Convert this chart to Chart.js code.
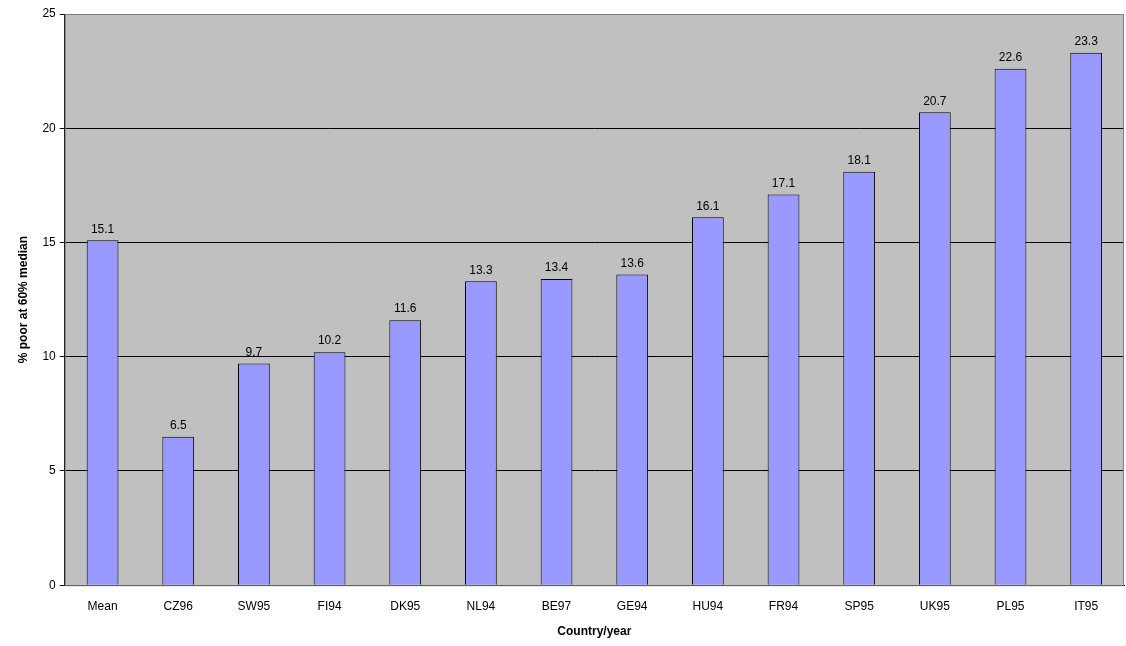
<!DOCTYPE html>
<html><head><meta charset="utf-8">
<script src="https://cdn.jsdelivr.net/npm/chart.js@4/dist/chart.umd.min.js"></script>
<style>html,body{margin:0;padding:0;background:#fff}#w{width:1126px;height:646px}</style>
</head><body><div id="w"><canvas id="c"></canvas></div>
<script>
const categories=["Mean","CZ96","SW95","FI94","DK95","NL94","BE97","GE94","HU94","FR94","SP95","UK95","PL95","IT95"];
const values=[15.1,6.5,9.7,10.2,11.6,13.3,13.4,13.6,16.1,17.1,18.1,20.7,22.6,23.3];
const yTicks=[0,5,10,15,20,25];
const bg={id:'bg',beforeDraw(ch){const a=ch.chartArea,c=ch.ctx;c.save();c.fillStyle='#C0C0C0';c.fillRect(a.left,a.top,a.right-a.left,a.bottom-a.top);c.restore();},
afterDraw(ch){const a=ch.chartArea,c=ch.ctx;c.save();c.strokeStyle='#808080';c.lineWidth=1;c.strokeRect(a.left+0.5,a.top+0.5,a.right-a.left-1,a.bottom-a.top);c.restore();}};
const lbl={id:'lbl',afterDatasetsDraw(ch){const c=ch.ctx;c.save();c.font='12px Arial, "Liberation Sans"';c.fillStyle='#000';c.textAlign='center';c.textBaseline='bottom';
ch.getDatasetMeta(0).data.forEach((b,i)=>{c.fillText(values[i].toFixed(1),b.x,b.y-5);});c.restore();}};
new Chart(document.getElementById('c'),{type:'bar',
data:{labels:categories,datasets:[{data:values,backgroundColor:'#9999FF',borderColor:'#000',borderWidth:1,categoryPercentage:1,barPercentage:0.42}]},
options:{responsive:true,maintainAspectRatio:false,animation:false,
layout:{padding:{top:14,right:2,left:12,bottom:3}},
plugins:{legend:{display:false},tooltip:{enabled:false}},
scales:{
x:{grid:{display:false},border:{color:'#000'},ticks:{color:'#000',font:{family:'Arial, "Liberation Sans"',size:12},maxRotation:0,padding:6},
title:{display:true,text:'Country/year',color:'#000',font:{family:'Arial, "Liberation Sans"',size:12,weight:'bold'},padding:{top:5}}},
y:{min:0,max:25,afterBuildTicks(s){s.ticks=yTicks.map(v=>({value:v}));},
grid:{color:'#000',drawTicks:true,tickLength:5,tickColor:'#000'},border:{color:'#000'},
ticks:{color:'#000',font:{family:'Arial, "Liberation Sans"',size:12},padding:4},
title:{display:true,text:'% poor at 60% median',color:'#000',font:{family:'Arial, "Liberation Sans"',size:12,weight:'bold'},padding:{bottom:8}}}}},
plugins:[bg,lbl]});
</script></body></html>
